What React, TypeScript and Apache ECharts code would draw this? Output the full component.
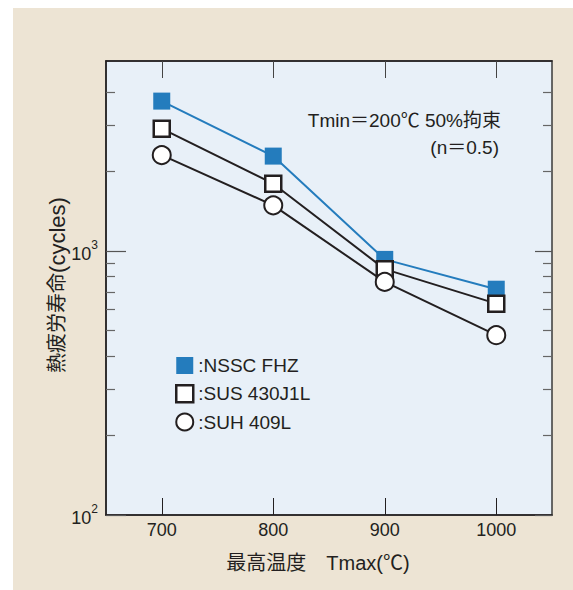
import React, { useEffect, useRef } from "react";
import * as echarts from "echarts";

// ---- data ----
const temps = [700, 800, 900, 1000];
const nsscFhz = [3700, 2290, 930, 717];
const sus430j1l = [2910, 1800, 854, 632];
const suh409l = [2310, 1490, 764, 480];
const seriesNames = ["NSSC FHZ", "SUS 430J1L", "SUH 409L"];

const xTickValues = [700, 800, 900, 1000];
const yMajorTicks = [100, 1000];
const yMinorTicks = [200, 300, 400, 500, 600, 700, 800, 900, 2000, 3000, 4000];
const yMin = 100;
const yMax = 5250;

const annotationLine1 = "Tmin＝200℃ 50%拘束";
const annotationLine2 = "(n＝0.5)";
const xTitle = "最高温度　Tmax(℃)";
const yTitleJa = "熱疲労寿命";
const yTitleUnit = "(cycles)";

const FONT = "'Liberation Sans', 'Noto Sans CJK JP', sans-serif";
const TEXT = "#231f20";
const BLUE = "#247cbd";

const lg = (v: number) => Math.log10(v);
const toPoints = (vals: number[]) => temps.map((t, i) => [t, lg(vals[i])]);

export default function App() {
  const ref = useRef<HTMLDivElement>(null);
  useEffect(() => {
    if (!ref.current) return;
    const chart = echarts.init(ref.current, undefined, { renderer: "svg" });
    const yBase = {
      type: "value",
      min: lg(yMin),
      max: lg(yMax),
      splitLine: { show: false },
    };
    const option: any = {
      animation: false,
      backgroundColor: "#ede4d4",
      grid: {
        left: 93,
        top: 53,
        right: 21,
        bottom: 75,
        show: true,
        backgroundColor: "#e8f0f8",
        borderColor: "#3a3a3a",
        borderWidth: 1.5,
      },
      xAxis: [
        {
          type: "value",
          min: 650,
          max: 1050,
          position: "bottom",
          axisLine: { show: true, lineStyle: { color: TEXT, width: 1.5 } },
          axisTick: {
            show: true,
            inside: true,
            length: 17,
            customValues: xTickValues,
            lineStyle: { color: TEXT, width: 1 },
          },
          axisLabel: {
            customValues: xTickValues,
            formatter: (v: number) => String(v),
            fontSize: 18,
            color: TEXT,
            margin: 6,
            fontFamily: FONT,
          },
          splitLine: { show: false },
        },
        {
          type: "value",
          min: 650,
          max: 1050,
          position: "top",
          axisLine: { show: true, lineStyle: { color: TEXT, width: 1.5 } },
          axisTick: {
            show: true,
            inside: true,
            length: 17,
            customValues: xTickValues,
            lineStyle: { color: "#444", width: 1 },
          },
          axisLabel: { show: false },
          splitLine: { show: false },
        },
      ],
      yAxis: [
        {
          ...yBase,
          position: "left",
          axisLine: { show: true, lineStyle: { color: TEXT, width: 1.5 } },
          axisTick: {
            show: true,
            inside: true,
            length: 20,
            customValues: yMajorTicks.map(lg),
            lineStyle: { color: "#555", width: 1.2 },
          },
          axisLabel: {
            customValues: yMajorTicks.map(lg),
            margin: 8,
            formatter: (v: number) => `{b|10}{s|${Math.round(v)}}`,
            rich: {
              b: { fontSize: 18, color: TEXT, fontFamily: FONT, padding: [6, 0, 0, 0] },
              s: { fontSize: 12, color: TEXT, fontFamily: FONT, verticalAlign: "top" },
            },
          },
        },
        {
          ...yBase,
          position: "left",
          axisLine: { show: false },
          axisTick: {
            show: true,
            inside: true,
            length: 9,
            customValues: yMinorTicks.map(lg),
            lineStyle: { color: "#666", width: 1.2 },
          },
          axisLabel: { show: false },
        },
        {
          ...yBase,
          position: "right",
          axisLine: { show: false },
          axisTick: {
            show: true,
            inside: true,
            length: 17,
            customValues: yMajorTicks.map(lg),
            lineStyle: { color: "#555", width: 1.2 },
          },
          axisLabel: { show: false },
        },
        {
          ...yBase,
          position: "right",
          axisLine: { show: false },
          axisTick: {
            show: true,
            inside: true,
            length: 9,
            customValues: yMinorTicks.map(lg),
            lineStyle: { color: "#666", width: 1.2 },
          },
          axisLabel: { show: false },
        },
      ],
      legend: {
        orient: "vertical",
        left: 162,
        top: 348,
        padding: 0,
        itemWidth: 17,
        itemHeight: 17,
        itemGap: 9,
        selectedMode: false,
        textStyle: { fontSize: 19, color: TEXT, fontFamily: FONT },
        formatter: (n: string) => ":" + n,
        data: [
          { name: seriesNames[0], icon: "rect", itemStyle: { color: BLUE, borderWidth: 0 } },
          {
            name: seriesNames[1],
            icon: "rect",
            itemStyle: { color: "#fff", borderColor: TEXT, borderWidth: 2.5 },
          },
          {
            name: seriesNames[2],
            icon: "circle",
            itemStyle: { color: "#fff", borderColor: TEXT, borderWidth: 2 },
          },
        ],
      },
      series: [
        {
          type: "line",
          name: seriesNames[0],
          xAxisIndex: 0,
          yAxisIndex: 0,
          data: toPoints(nsscFhz),
          symbol: "rect",
          symbolSize: 17,
          lineStyle: { color: BLUE, width: 2 },
          itemStyle: { color: BLUE, borderWidth: 0 },
        },
        {
          type: "line",
          name: seriesNames[1],
          xAxisIndex: 0,
          yAxisIndex: 0,
          data: toPoints(sus430j1l),
          symbol: "rect",
          symbolSize: 16,
          lineStyle: { color: TEXT, width: 2 },
          itemStyle: { color: "#fff", borderColor: TEXT, borderWidth: 2.5 },
        },
        {
          type: "line",
          name: seriesNames[2],
          xAxisIndex: 0,
          yAxisIndex: 0,
          data: toPoints(suh409l),
          symbol: "circle",
          symbolSize: 18,
          lineStyle: { color: TEXT, width: 2 },
          itemStyle: { color: "#fff", borderColor: TEXT, borderWidth: 2 },
        },
      ],
      graphic: [
        {
          type: "text",
          right: 72,
          top: 103,
          style: { text: annotationLine1, fontSize: 19, fill: TEXT, fontFamily: FONT },
        },
        {
          type: "text",
          right: 74,
          top: 130,
          style: { text: annotationLine2, fontSize: 19, fill: TEXT, fontFamily: FONT },
        },
        {
          type: "text",
          x: 305,
          y: 555,
          style: {
            text: xTitle,
            fontSize: 20,
            fill: TEXT,
            fontFamily: FONT,
            align: "center",
            verticalAlign: "middle",
          },
        },
        {
          type: "text",
          x: 44,
          y: 277,
          rotation: Math.PI / 2,
          style: {
            text: `{j|${yTitleJa}}{u|${yTitleUnit}}`,
            fill: TEXT,
            align: "center",
            verticalAlign: "middle",
            rich: {
              j: { fontSize: 20, fill: TEXT, fontFamily: FONT },
              u: { fontSize: 22, fill: TEXT, fontFamily: FONT },
            },
          },
        },
      ],
    };
    chart.setOption(option);
    return () => chart.dispose();
  }, []);
  return (
    <div style={{ position: "fixed", left: 0, top: 0, width: 573, height: 590, background: "#fff" }}>
      <div ref={ref} style={{ position: "absolute", left: 13, top: 8, width: 560, height: 582 }} />
    </div>
  );
}
